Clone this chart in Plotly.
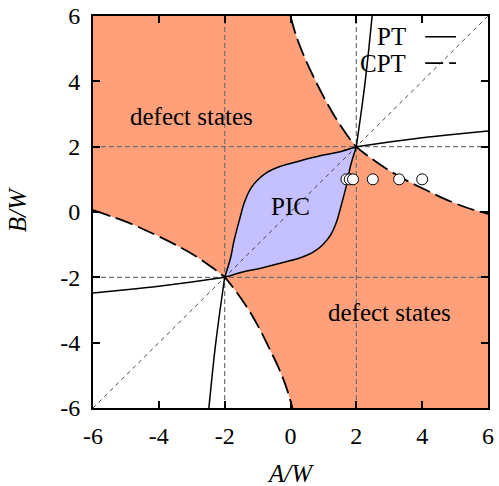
import plotly.graph_objects as go

# ---- axis setup -------------------------------------------------------
AXIS_MIN, AXIS_MAX = -6, 6
TICK_VALS = [-6, -4, -2, 0, 2, 4, 6]
TICK_TEXT = ["-6", "-4", "-2", "0", "2", "4", "6"]
GRID_AT = [-2, 2]
DIAGONAL = [-6, 6]

# ---- CPT boundaries (dashed) -------------------------------------------
CPT_UPPER_A = [0.00, 0.17, 0.42, 0.72, 1.02, 1.36, 1.70, 2.00, 2.40, 2.95, 3.50, 4.10, 4.75, 5.36, 6.00]
CPT_UPPER_B = [6.00, 5.40, 4.75, 4.10, 3.50, 2.90, 2.38, 2.00, 1.68, 1.30, 0.98, 0.68, 0.37, 0.13, -0.06]
CPT_LOWER_A = [-6.00, -5.40, -4.75, -4.10, -3.50, -2.90, -2.38, -2.00, -1.68, -1.30, -0.98, -0.68, -0.37, -0.13, 0.06]
CPT_LOWER_B = [0.06, -0.15, -0.40, -0.70, -1.00, -1.34, -1.70, -2.00, -2.40, -2.95, -3.50, -4.10, -4.75, -5.36, -6.00]

# ---- PT boundaries (solid) ---------------------------------------------
PIC_UPPER_A = [-2.00, -1.82, -1.72, -1.54, -1.40, -1.22, -1.00, -0.70, -0.30, 0.20, 0.90, 1.40, 2.00]
PIC_UPPER_B = [-2.00, -1.40, -0.90, -0.20, 0.30, 0.70, 0.98, 1.22, 1.40, 1.54, 1.72, 1.82, 2.00]
PIC_LOWER_A = [-2.00, -1.40, -0.90, -0.20, 0.30, 0.70, 0.98, 1.22, 1.40, 1.54, 1.72, 1.82, 2.00]
PIC_LOWER_B = [-2.00, -1.82, -1.72, -1.54, -1.40, -1.22, -1.00, -0.70, -0.30, 0.20, 0.90, 1.40, 2.00]

PT_ARM_UP_A = [2.00, 2.14, 2.27, 2.38, 2.48]
PT_ARM_UP_B = [2.00, 3.00, 4.00, 5.00, 6.00]
PT_ARM_RIGHT_A = [2.00, 3.00, 4.00, 5.00, 6.00]
PT_ARM_RIGHT_B = [2.00, 2.14, 2.27, 2.38, 2.48]
PT_ARM_DOWN_A = [-2.00, -2.14, -2.27, -2.38, -2.48]
PT_ARM_DOWN_B = [-2.00, -3.00, -4.00, -5.00, -6.00]
PT_ARM_LEFT_A = [-2.00, -3.00, -4.00, -5.00, -6.00]
PT_ARM_LEFT_B = [-2.00, -2.14, -2.27, -2.38, -2.48]

# ---- numerical points ---------------------------------------------------
CIRCLE_A = [1.7, 1.8, 1.9, 2.5, 3.3, 4.0]
CIRCLE_B = [1.0, 1.0, 1.0, 1.0, 1.0, 1.0]

SALMON = "#ffa07a"
LAVENDER = "#c5c0ff"
FONT = "Liberation Serif"
DASH_CPT = "18px,6px"

fig = go.Figure()

# defect-state region between the two CPT curves
region_a = ([AXIS_MIN] + CPT_UPPER_A + [AXIS_MAX, AXIS_MAX]
            + CPT_LOWER_A[::-1] + [AXIS_MIN])
region_b = ([AXIS_MAX] + CPT_UPPER_B + [AXIS_MIN, AXIS_MIN]
            + CPT_LOWER_B[::-1] + [AXIS_MAX])
fig.add_trace(go.Scatter(x=region_a, y=region_b, mode="lines", fill="toself",
                         fillcolor=SALMON, line=dict(width=0), hoverinfo="skip"))

# PIC lens
fig.add_trace(go.Scatter(x=PIC_LOWER_A, y=PIC_LOWER_B, mode="lines",
                         line=dict(width=0, shape="spline"), hoverinfo="skip"))
fig.add_trace(go.Scatter(x=PIC_UPPER_A, y=PIC_UPPER_B, mode="lines",
                         fill="tonexty", fillcolor=LAVENDER,
                         line=dict(width=0, shape="spline"), hoverinfo="skip"))

# dashed grid at +-2
for g in GRID_AT:
    fig.add_trace(go.Scatter(x=[g, g], y=[AXIS_MIN, AXIS_MAX], mode="lines",
                             line=dict(color="#707070", width=1.2, dash="5px,3px"),
                             hoverinfo="skip"))
    fig.add_trace(go.Scatter(x=[AXIS_MIN, AXIS_MAX], y=[g, g], mode="lines",
                             line=dict(color="#707070", width=1.2, dash="5px,3px"),
                             hoverinfo="skip"))

# A = B diagonal
fig.add_trace(go.Scatter(x=DIAGONAL, y=DIAGONAL, mode="lines",
                         line=dict(color="#333333", width=0.9, dash="4px,4px"),
                         hoverinfo="skip"))

# PT curves
pt_line = dict(color="black", width=1.5, shape="spline")
for xa, yb in [(PIC_UPPER_A, PIC_UPPER_B), (PIC_LOWER_A, PIC_LOWER_B),
               (PT_ARM_UP_A, PT_ARM_UP_B), (PT_ARM_RIGHT_A, PT_ARM_RIGHT_B),
               (PT_ARM_DOWN_A, PT_ARM_DOWN_B), (PT_ARM_LEFT_A, PT_ARM_LEFT_B)]:
    fig.add_trace(go.Scatter(x=xa, y=yb, mode="lines", line=pt_line, hoverinfo="skip"))

# CPT curves
cpt_line = dict(color="black", width=1.8, dash=DASH_CPT, shape="spline")
for xa, yb in [(CPT_UPPER_A, CPT_UPPER_B), (CPT_LOWER_A, CPT_LOWER_B)]:
    fig.add_trace(go.Scatter(x=xa, y=yb, mode="lines", line=cpt_line, hoverinfo="skip"))

# open circles
fig.add_trace(go.Scatter(x=CIRCLE_A, y=CIRCLE_B, mode="markers",
                         marker=dict(symbol="circle", size=11, color="white",
                                     line=dict(color="black", width=1)),
                         hoverinfo="skip"))

axis_common = dict(
    range=[AXIS_MIN, AXIS_MAX], tickmode="array", tickvals=TICK_VALS, ticktext=TICK_TEXT,
    ticks="inside", ticklen=7, tickwidth=1.5, tickcolor="black",
    showline=True, linewidth=2, linecolor="black", mirror="ticks",
    showgrid=False, zeroline=False, automargin=False,
    tickfont=dict(family=FONT, size=24, color="black"),
)

fig.update_layout(
    width=499, height=486,
    margin=dict(l=93, r=11, t=16, b=78),
    paper_bgcolor="white", plot_bgcolor="white",
    showlegend=False,
    xaxis=dict(**axis_common, ticklabelstandoff=5),
    yaxis=dict(**axis_common, ticklabelstandoff=6),
    font=dict(family=FONT, size=25, color="black"),
)

text_font = dict(family=FONT, size=25, color="black")
fig.add_annotation(x=-3.0, y=2.92, text="defect states", showarrow=False, font=text_font)
fig.add_annotation(x=3.0, y=-3.07, text="defect states", showarrow=False, font=text_font)
fig.add_annotation(x=0.0, y=0.18, text="PIC", showarrow=False, font=text_font)

# axis titles
fig.add_annotation(xref="paper", yref="paper", x=0.5, y=-0.168, text="<i>A/W</i>",
                   showarrow=False, font=text_font, yanchor="middle")
fig.add_annotation(xref="paper", yref="paper", x=-0.192, y=0.505, text="<i>B/W</i>",
                   showarrow=False, font=text_font, textangle=-90, xanchor="center")

# key: label on the left, line sample on the right
fig.add_annotation(xref="paper", yref="paper", x=0.797, y=0.947, text="PT",
                   showarrow=False, font=text_font, xanchor="right", yanchor="middle")
fig.add_annotation(xref="paper", yref="paper", x=0.797, y=0.880, text="CPT",
                   showarrow=False, font=text_font, xanchor="right", yanchor="middle")
fig.add_shape(type="line", xref="paper", yref="paper", x0=0.841, x1=0.919,
              y0=0.947, y1=0.947, line=dict(color="black", width=1.5))
fig.add_shape(type="line", xref="paper", yref="paper", x0=0.841, x1=0.919,
              y0=0.880, y1=0.880, line=dict(color="black", width=1.8, dash=DASH_CPT))

fig.write_html("out.html")
